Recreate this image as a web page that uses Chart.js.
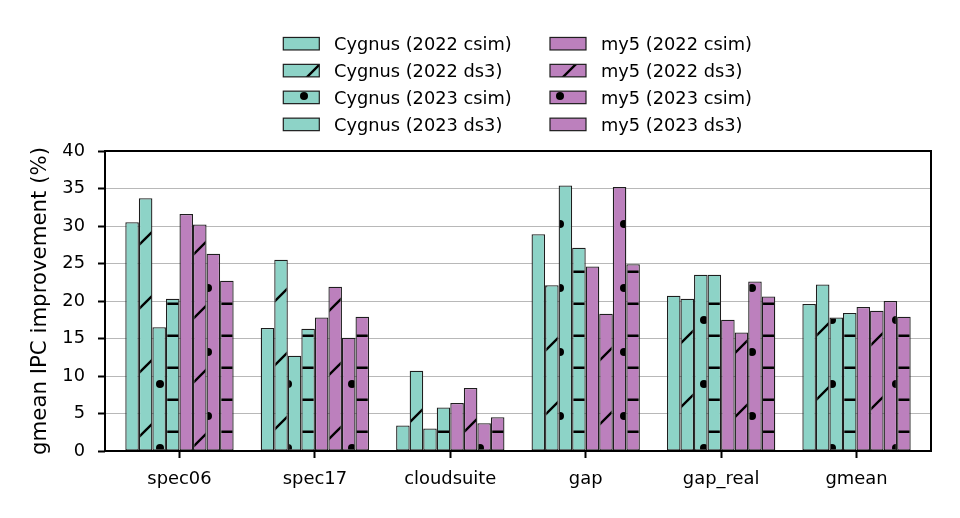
<!DOCTYPE html>
<html>
<head>
<meta charset="utf-8">
<script src="https://cdn.jsdelivr.net/npm/chart.js@4.4.1/dist/chart.umd.min.js"></script>
<style>
  html, body { margin: 0; padding: 0; background: #fff; }
  #c { display: block; }
</style>
</head>
<body>
<canvas id="c" width="960" height="518"></canvas>
<script>
// ---- data ----
const categories = ['spec06', 'spec17', 'cloudsuite', 'gap', 'gap_real', 'gmean'];
const seriesNames = [
  'Cygnus (2022 csim)', 'Cygnus (2022 ds3)', 'Cygnus (2023 csim)', 'Cygnus (2023 ds3)',
  'my5 (2022 csim)', 'my5 (2022 ds3)', 'my5 (2023 csim)', 'my5 (2023 ds3)'
];
const cygnus2022csim = [30.5, 16.4, 3.4, 28.9, 20.7, 19.6];
const cygnus2022ds3  = [33.7, 25.5, 10.7, 22.1, 20.3, 22.2];
const cygnus2023csim = [16.5, 12.7, 3.0, 35.4, 23.5, 17.8];
const cygnus2023ds3  = [20.3, 16.3, 5.8, 27.1, 23.5, 18.4];
const my5_2022csim   = [31.6, 17.8, 6.4, 24.6, 17.5, 19.2];
const my5_2022ds3    = [30.2, 21.9, 8.4, 18.3, 15.8, 18.7];
const my5_2023csim   = [26.3, 15.1, 3.7, 35.2, 22.6, 20.0];
const my5_2023ds3    = [22.7, 17.9, 4.5, 24.9, 20.6, 17.9];
const yTicks = [0, 5, 10, 15, 20, 25, 30, 35, 40];
const yLabel = 'gmean IPC improvement (%)';

const seriesValues = [cygnus2022csim, cygnus2022ds3, cygnus2023csim, cygnus2023ds3,
                      my5_2022csim, my5_2022ds3, my5_2023csim, my5_2023ds3];

// ---- styles ----
const TEAL = '#8dd3c7', PURPLE = '#bc80bd';
const colors  = [TEAL, TEAL, TEAL, TEAL, PURPLE, PURPLE, PURPLE, PURPLE];
const hatches = ['', '/', '.', '-', '', '/', '.', '-'];

function makePattern(color, hatch) {
  const T = 64;
  const c = document.createElement('canvas');
  c.width = T; c.height = T;
  const g = c.getContext('2d');
  g.fillStyle = color; g.fillRect(0, 0, T, T);
  g.strokeStyle = '#000'; g.fillStyle = '#000'; g.lineWidth = 2.3;
  if (hatch === '/') {
    for (const k of [0, 64, 128]) {
      g.beginPath(); g.moveTo(-8, k + 8); g.lineTo(72, k - 72); g.stroke();
    }
  } else if (hatch === '-') {
    for (const y of [15.75, 47.75]) {
      g.beginPath(); g.moveTo(0, y); g.lineTo(T, y); g.stroke();
    }
  } else if (hatch === '.') {
    const pts = [[0,0],[32,0],[64,0],[0,64],[32,64],[64,64],[16,32],[48,32]];
    for (const [x, y] of pts) {
      g.beginPath(); g.arc(x, y, 4, 0, Math.PI * 2); g.fill();
    }
  }
  return g.createPattern(c, 'repeat');
}

const fills = colors.map((c, i) => makePattern(c, hatches[i]));

const datasets = seriesNames.map((name, i) => ({
  label: name,
  data: seriesValues[i].map((v, j) => ({ x: j, y: v })),
  backgroundColor: fills[i],
  borderColor: '#1e1e1e',
  borderWidth: 1.3,
  borderSkipped: false,
  categoryPercentage: 0.8,
  barPercentage: 1.0
}));

// frame + legend plugin
const framePlugin = {
  id: 'frameLegend',
  afterDraw(chart) {
    const { ctx, chartArea: a } = chart;
    ctx.save();
    ctx.strokeStyle = '#000';
    ctx.lineWidth = 2;
    ctx.strokeRect(a.left, a.top, a.right - a.left, a.bottom - a.top);

    // legend (2 columns, 4 rows)
    const colX = [283.3, 550];
    const textX = [334, 601];
    const rowY = [43.7, 70.6, 97.4, 124.4];
    ctx.font = '17.8px "DejaVu Sans"';
    ctx.textBaseline = 'alphabetic';
    ctx.textAlign = 'left';
    seriesNames.forEach((name, i) => {
      const col = Math.floor(i / 4), row = i % 4;
      const x = colX[col], y = rowY[row] - 6.25;
      ctx.fillStyle = fills[i];
      ctx.fillRect(x, y, 36, 12.5);
      ctx.strokeStyle = '#1e1e1e';
      ctx.lineWidth = 1.2;
      ctx.strokeRect(x, y, 36, 12.5);
      ctx.fillStyle = '#000';
      ctx.fillText(name, textX[col], rowY[row] + 6.4);
    });
    ctx.restore();
  }
};

Chart.defaults.color = '#000';
Chart.defaults.font.family = '"DejaVu Sans", sans-serif';
Chart.defaults.font.size = 17.5;

new Chart(document.getElementById('c'), {
  type: 'bar',
  data: { datasets },
  options: {
    responsive: false,
    animation: false,
    devicePixelRatio: 1,
    layout: { padding: { left: 0, right: 29, top: 151, bottom: 0 } },
    plugins: { legend: { display: false }, tooltip: { enabled: false } },
    scales: {
      x: {
        type: 'linear',
        min: -0.55,
        max: 5.55,
        offset: false,
        afterBuildTicks: (axis) => { axis.ticks = categories.map((c, i) => ({ value: i })); },
        afterFit: (axis) => { axis.height = 67; },
        ticks: {
          callback: (v) => categories[v],
          padding: 11,
          maxRotation: 0,
          autoSkip: false,
          font: { size: 17.9 }
        },
        grid: { offset: false, drawOnChartArea: false, drawTicks: true, tickLength: 7, tickColor: '#000', tickWidth: 2 },
        border: { display: false }
      },
      y: {
        min: 0,
        max: 40,
        afterBuildTicks: (axis) => { axis.ticks = yTicks.map(v => ({ value: v })); },
        afterFit: (axis) => { axis.width = 105; },
        ticks: { padding: 13, font: { size: 17.8 } },
        grid: { color: '#b8b8b8', lineWidth: 1, drawTicks: true, tickLength: 7, tickColor: '#000', tickWidth: 2 },
        border: { display: false },
        title: { display: true, text: yLabel, font: { size: 21.3 }, padding: { top: 28, bottom: 0 } }
      }
    }
  },
  plugins: [framePlugin]
});
</script>
</body>
</html>
